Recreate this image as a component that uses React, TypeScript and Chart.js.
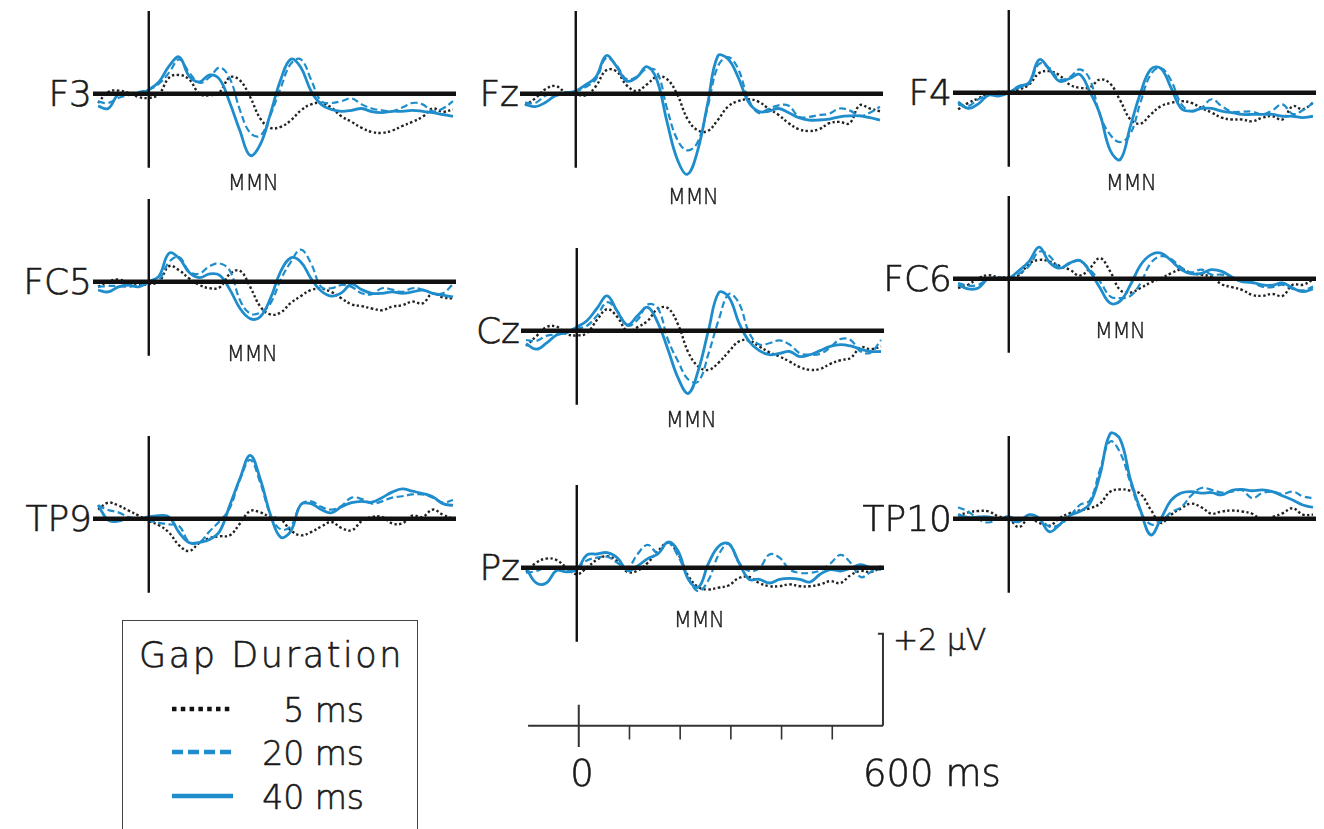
import React, { useEffect, useRef } from "react";
import { Chart, registerables } from "chart.js";

Chart.register(...registerables);

// Sample times (ms relative to gap onset)
const TIMES_MS = [
  -100, -80, -60, -40, -20, 0, 20, 40, 60, 80, 100, 120, 140, 160, 180, 200, 220, 240,
  260, 280, 300, 320, 340, 360, 380, 400, 420, 440, 460, 480, 500, 520, 540, 560, 580, 600,
];

// Grand-average ERPs in µV, one value per entry of TIMES_MS
const F3_GAP5 = [-0.20, 0.04, 0.07, 0.02, -0.07, -0.09, -0.01, 0.35, 0.41, 0.31, 0, -0.03, 0.04, 0.36, 0.29, -0.07, -0.54, -0.74, -0.72, -0.58, -0.36, -0.23, -0.20, -0.30, -0.49, -0.61, -0.74, -0.83, -0.85, -0.80, -0.70, -0.61, -0.50, -0.32, -0.39, -0.34];
const F3_GAP20 = [-0.17, -0.20, -0.09, -0.03, 0.04, 0.09, 0.22, 0.46, 0.75, 0.46, 0.24, 0.36, 0.57, 0.33, -0.36, -0.85, -0.91, -0.46, 0.12, 0.65, 0.75, 0.31, -0.16, -0.20, -0.16, -0.10, -0.23, -0.32, -0.36, -0.38, -0.30, -0.20, -0.23, -0.38, -0.32, -0.16];
const F3_GAP40 = [-0.27, -0.32, -0.01, 0, -0.01, 0.09, 0.26, 0.60, 0.80, 0.38, 0.26, 0.41, 0.31, -0.20, -0.81, -1.34, -1.10, -0.43, 0.30, 0.75, 0.57, 0.06, -0.23, -0.34, -0.38, -0.36, -0.32, -0.39, -0.41, -0.38, -0.38, -0.36, -0.38, -0.41, -0.45, -0.49];

const FZ_GAP5 = [-0.25, -0.10, 0.10, 0.17, 0.03, -0.01, -0.03, 0.17, 0.51, 0.49, 0.19, 0.06, 0.20, 0.37, 0.32, -0.01, -0.54, -0.79, -0.81, -0.57, -0.28, -0.16, -0.12, -0.17, -0.32, -0.46, -0.64, -0.77, -0.81, -0.77, -0.64, -0.61, -0.64, -0.25, -0.32, -0.38];
const FZ_GAP20 = [-0.19, -0.20, -0.04, 0.01, 0.03, 0.06, 0.15, 0.32, 0.78, 0.62, 0.32, 0.37, 0.54, 0.48, -0.32, -0.99, -1.23, -1.06, -0.30, 0.59, 0.80, 0.55, -0.10, -0.41, -0.33, -0.25, -0.26, -0.50, -0.50, -0.46, -0.43, -0.32, -0.36, -0.48, -0.41, -0.28];
const FZ_GAP40 = [-0.23, -0.28, -0.19, -0.04, 0.01, 0.06, 0.20, 0.37, 0.83, 0.60, 0.28, 0.35, 0.59, 0.30, -0.61, -1.42, -1.75, -1.25, -0.22, 0.82, 0.76, 0.37, -0.17, -0.38, -0.38, -0.32, -0.41, -0.52, -0.57, -0.57, -0.55, -0.50, -0.48, -0.48, -0.52, -0.57];

const F4_GAP5 = [-0.36, -0.22, -0.12, -0.02, 0.02, 0.02, 0.07, 0.18, 0.43, 0.47, 0.38, 0.18, 0.11, 0.12, 0.29, 0.20, -0.17, -0.58, -0.67, -0.47, -0.29, -0.22, -0.18, -0.22, -0.33, -0.43, -0.54, -0.58, -0.58, -0.62, -0.54, -0.51, -0.58, -0.29, -0.36, -0.22];
const F4_GAP20 = [-0.25, -0.29, -0.14, -0.05, -0.01, 0.02, 0.11, 0.20, 0.63, 0.54, 0.29, 0.34, 0.51, 0.29, -0.49, -0.91, -1.07, -0.89, -0.20, 0.40, 0.54, 0.27, -0.24, -0.40, -0.33, -0.14, -0.29, -0.41, -0.41, -0.41, -0.47, -0.38, -0.25, -0.46, -0.38, -0.22];
const F4_GAP40 = [-0.20, -0.34, -0.24, -0.05, -0.07, 0, 0.14, 0.22, 0.72, 0.51, 0.25, 0.31, 0.40, 0.02, -0.47, -1.25, -1.45, -0.72, 0.0, 0.51, 0.53, 0.11, -0.34, -0.40, -0.34, -0.34, -0.40, -0.43, -0.47, -0.47, -0.47, -0.47, -0.51, -0.51, -0.54, -0.51];

const FC5_GAP5 = [-0.11, 0, 0.05, -0.02, -0.07, -0.05, 0, 0.34, 0.25, 0.07, -0.07, -0.14, -0.12, 0.17, 0.24, -0.11, -0.54, -0.71, -0.67, -0.46, -0.31, -0.18, -0.15, -0.22, -0.36, -0.49, -0.53, -0.58, -0.62, -0.54, -0.51, -0.43, -0.47, -0.25, -0.34, -0.36];
const FC5_GAP20 = [-0.11, -0.09, -0.09, -0.11, -0.07, -0.04, 0.04, 0.43, 0.54, 0.22, 0.18, 0.34, 0.40, 0.24, -0.40, -0.69, -0.67, -0.47, 0.04, 0.43, 0.70, 0.40, -0.11, -0.14, -0.07, -0.11, -0.25, -0.27, -0.14, -0.17, -0.22, -0.14, -0.17, -0.25, -0.25, -0.05];
const FC5_GAP40 = [-0.18, -0.22, -0.11, -0.07, -0.11, 0, 0.12, 0.62, 0.51, 0.20, 0.09, 0.17, 0.14, -0.17, -0.58, -0.80, -0.76, -0.36, 0.22, 0.52, 0.43, 0.07, -0.20, -0.31, -0.24, -0.05, -0.17, -0.25, -0.25, -0.22, -0.25, -0.22, -0.18, -0.25, -0.29, -0.33];

const CZ_GAP5 = [-0.33, -0.12, 0.08, 0.09, -0.07, -0.10, -0.05, 0.24, 0.47, 0.30, -0.01, 0.08, 0.22, 0.48, 0.49, 0.13, -0.47, -0.78, -0.85, -0.69, -0.45, -0.23, -0.21, -0.34, -0.47, -0.56, -0.67, -0.79, -0.85, -0.83, -0.72, -0.64, -0.59, -0.36, -0.40, -0.34];
const CZ_GAP20 = [-0.20, -0.22, -0.11, -0.08, -0.04, 0.04, 0.11, 0.33, 0.62, 0.43, 0.11, 0.24, 0.57, 0.49, -0.20, -0.67, -1.06, -1.10, -0.49, 0.24, 0.80, 0.60, -0.04, -0.30, -0.27, -0.21, -0.30, -0.49, -0.52, -0.50, -0.36, -0.18, -0.20, -0.45, -0.47, -0.20];
const CZ_GAP40 = [-0.28, -0.40, -0.27, -0.09, -0.04, 0.08, 0.22, 0.49, 0.76, 0.42, 0.13, 0.33, 0.51, 0.17, -0.41, -1.03, -1.36, -0.85, 0.02, 0.83, 0.73, 0.17, -0.23, -0.43, -0.52, -0.49, -0.45, -0.56, -0.52, -0.43, -0.34, -0.30, -0.33, -0.40, -0.45, -0.45];

const FC6_GAP5 = [-0.20, -0.13, 0.01, 0.08, 0.03, 0.04, 0.08, 0.33, 0.41, 0.38, 0.28, 0.20, 0.07, 0.23, 0.45, 0.16, -0.25, -0.30, -0.20, -0.08, 0.01, 0.12, 0.20, 0.12, 0.09, 0.04, -0.12, -0.18, -0.24, -0.35, -0.37, -0.33, -0.37, -0.13, -0.13, -0.02];
const FC6_GAP20 = [-0.09, -0.15, -0.13, -0.01, 0.03, 0.01, 0.11, 0.28, 0.59, 0.50, 0.25, 0.33, 0.39, 0.20, -0.06, -0.38, -0.42, -0.37, -0.09, 0.34, 0.49, 0.43, 0.25, 0.14, 0.20, 0.09, 0.09, 0.01, -0.06, -0.09, -0.17, -0.18, -0.13, -0.22, -0.25, -0.17];
const FC6_GAP40 = [-0.13, -0.22, -0.20, 0.01, -0.01, 0.01, 0.18, 0.38, 0.69, 0.36, 0.23, 0.34, 0.40, 0.16, -0.20, -0.53, -0.48, -0.13, 0.30, 0.52, 0.56, 0.40, 0.20, 0.11, 0.12, 0.20, 0.16, 0.04, -0.06, -0.08, -0.13, -0.14, -0.09, -0.20, -0.28, -0.22];

const TP9_GAP5 = [0.20, 0.35, 0.29, 0.18, 0.07, -0.05, -0.14, -0.30, -0.58, -0.70, -0.52, -0.42, -0.38, -0.36, -0.10, 0.17, 0.14, 0.04, -0.01, -0.25, -0.36, -0.29, -0.17, -0.07, -0.20, -0.25, -0.05, 0.04, 0.04, -0.10, -0.10, 0.07, 0.04, 0.20, 0.09, 0];
const TP9_GAP20 = [0.29, 0.19, 0.14, 0.04, -0.01, -0.04, -0.09, -0.12, -0.16, -0.51, -0.51, -0.27, -0.05, 0.24, 0.86, 1.28, 0.78, 0.09, -0.23, -0.16, 0.31, 0.38, 0.26, 0.20, 0.28, 0.46, 0.43, 0.33, 0.38, 0.46, 0.49, 0.53, 0.53, 0.46, 0.35, 0.41];
const TP9_GAP40 = [0.30, -0.03, -0.05, 0.02, 0, 0.04, 0.07, 0.04, -0.30, -0.52, -0.51, -0.45, -0.27, 0.30, 0.88, 1.38, 0.86, 0.09, -0.40, -0.27, 0.31, 0.33, 0.20, 0.13, 0.26, 0.35, 0.38, 0.36, 0.46, 0.58, 0.65, 0.60, 0.55, 0.48, 0.33, 0.29];

const PZ_GAP5 = [-0.09, 0.11, 0.20, 0.17, 0, -0.14, 0, 0.18, 0.25, 0.14, -0.09, -0.06, 0.11, 0.36, 0.54, 0.30, -0.18, -0.42, -0.47, -0.43, -0.38, -0.22, -0.20, -0.33, -0.40, -0.40, -0.36, -0.40, -0.40, -0.36, -0.29, -0.33, -0.16, -0.07, -0.09, 0];
const PZ_GAP20 = [-0.11, -0.07, 0, -0.04, -0.07, 0, 0.16, 0.22, 0.24, 0.11, 0, 0.30, 0.50, 0.32, 0.55, 0.25, -0.22, -0.51, -0.26, 0.29, 0.52, 0.11, -0.07, -0.01, 0.29, 0.22, -0.04, -0.11, -0.11, -0.06, 0.09, 0.28, 0.11, -0.20, -0.09, 0.04];
const PZ_GAP40 = [0, -0.33, -0.33, -0.06, -0.09, -0.04, 0.28, 0.30, 0.33, 0.22, -0.06, 0.04, 0.20, 0.30, 0.56, 0.36, -0.25, -0.42, 0.10, 0.47, 0.52, 0.11, -0.25, -0.25, -0.33, -0.25, -0.23, -0.25, -0.31, -0.14, -0.04, -0.07, -0.01, 0.07, 0, -0.04];

const TP10_GAP5 = [0.07, 0.14, 0.17, 0.16, 0.05, 0, -0.18, 0.01, -0.09, -0.15, 0.01, 0.12, 0.18, 0.23, 0.33, 0.59, 0.64, 0.61, 0.54, 0.20, -0.09, 0.09, 0.23, 0.33, 0.25, 0.11, 0.16, 0.18, 0.16, 0.11, -0.02, 0.04, 0.12, 0.23, 0.09, 0.09];
const TP10_GAP20 = [0.25, 0.16, -0.01, -0.08, 0.01, 0.05, -0.02, -0.02, 0.01, -0.17, -0.13, 0.05, 0.30, 0.40, 1.07, 1.68, 1.43, 0.78, 0.16, -0.12, -0.06, 0.14, 0.25, 0.51, 0.67, 0.63, 0.57, 0.59, 0.62, 0.45, 0.56, 0.59, 0.54, 0.59, 0.49, 0.45];
const TP10_GAP40 = [0.09, 0.03, 0.04, 0.04, -0.01, -0.02, -0.06, 0.09, 0.01, -0.28, -0.13, 0.07, 0.16, 0.33, 0.96, 1.85, 1.72, 0.85, 0.18, -0.35, 0.0, 0.40, 0.56, 0.59, 0.56, 0.57, 0.52, 0.62, 0.64, 0.61, 0.63, 0.59, 0.50, 0.41, 0.30, 0.25];

// Scale-bar ticks (ms) and amplitude (µV)
const SCALE_TICKS_MS = [100, 200, 300, 400, 500];
const SCALE_AMPLITUDE_UV = 2;

const GAP_LABELS = ["5 ms", "20 ms", "40 ms"];

// Drawing constants
const BLUE = "#1f8dcb";
const INK = "#1a1a1a";
const FONT = "'DejaVu Sans', 'Open Sans', sans-serif";

const PX_PER_MS = 0.507;
const PX_PER_UV = 46;
const CANVAS_W = 363;
const CANVAS_H = 200;
const X_MIN = -110;
const X_MAX = X_MIN + CANVAS_W / PX_PER_MS;
const Y_MAX = 2.3;
const Y_MIN = Y_MAX - CANVAS_H / PX_PER_UV;

type Panel = {
  name: string;
  x0: number;
  y0: number;
  gap5: number[];
  gap20: number[];
  gap40: number[];
  mmn: [number, number] | null;
};

const PANELS: Panel[] = [
  { name: "F3", x0: 149, y0: 94, gap5: F3_GAP5, gap20: F3_GAP20, gap40: F3_GAP40, mmn: [253, 183] },
  { name: "Fz", x0: 576, y0: 94, gap5: FZ_GAP5, gap20: FZ_GAP20, gap40: FZ_GAP40, mmn: [693, 197] },
  { name: "F4", x0: 1009, y0: 93, gap5: F4_GAP5, gap20: F4_GAP20, gap40: F4_GAP40, mmn: [1131, 183] },
  { name: "FC5", x0: 149, y0: 282, gap5: FC5_GAP5, gap20: FC5_GAP20, gap40: FC5_GAP40, mmn: [252, 354] },
  { name: "Cz", x0: 577, y0: 331, gap5: CZ_GAP5, gap20: CZ_GAP20, gap40: CZ_GAP40, mmn: [691, 420] },
  { name: "FC6", x0: 1009, y0: 279, gap5: FC6_GAP5, gap20: FC6_GAP20, gap40: FC6_GAP40, mmn: [1120, 331] },
  { name: "TP9", x0: 149, y0: 519, gap5: TP9_GAP5, gap20: TP9_GAP20, gap40: TP9_GAP40, mmn: null },
  { name: "Pz", x0: 577, y0: 568, gap5: PZ_GAP5, gap20: PZ_GAP20, gap40: PZ_GAP40, mmn: [699, 620] },
  { name: "TP10", x0: 1009, y0: 519, gap5: TP10_GAP5, gap20: TP10_GAP20, gap40: TP10_GAP40, mmn: null },
];

const toPoints = (values: number[]) => TIMES_MS.map((t, i) => ({ x: t, y: values[i] }));

const lineStyle = (color: string, width: number, dash: number[] = []) => ({
  borderColor: color,
  borderWidth: width,
  borderDash: dash,
  pointRadius: 0,
  fill: false,
  clip: false as const,
});

function baseOptions() {
  return {
    animation: false as const,
    responsive: false,
    maintainAspectRatio: false,
    events: [] as any[],
    layout: { padding: 0 },
    plugins: { legend: { display: false }, tooltip: { enabled: false } },
    scales: {
      x: { type: "linear" as const, min: X_MIN, max: X_MAX, display: false },
      y: { type: "linear" as const, min: Y_MIN, max: Y_MAX, display: false },
    },
  };
}

function ChartCanvas({ x0, y0, makeDatasets }: { x0: number; y0: number; makeDatasets: () => any[] }) {
  const ref = useRef<HTMLCanvasElement>(null);
  useEffect(() => {
    if (!ref.current) return;
    const chart = new Chart(ref.current, {
      type: "line",
      data: { datasets: makeDatasets() },
      options: baseOptions() as any,
    });
    return () => chart.destroy();
  }, []);
  const left = Math.round(x0 + X_MIN * PX_PER_MS);
  const top = Math.round(y0 - Y_MAX * PX_PER_UV);
  return (
    <canvas
      ref={ref}
      width={CANVAS_W}
      height={CANVAS_H}
      style={{ position: "absolute", left, top, width: CANVAS_W, height: CANVAS_H }}
    />
  );
}

function Text({
  x,
  y,
  size,
  anchor = "left",
  spacing = 0,
  children,
}: {
  x: number;
  y: number;
  size: number;
  anchor?: "left" | "right" | "center";
  spacing?: number;
  children: React.ReactNode;
}) {
  const tx = anchor === "left" ? "0" : anchor === "right" ? "-100%" : "-50%";
  return (
    <div
      style={{
        position: "absolute",
        left: x,
        top: y,
        transform: `translate(${tx}, -50%)`,
        fontSize: size,
        fontWeight: 200,
        letterSpacing: spacing,
        lineHeight: 1,
        whiteSpace: "nowrap",
        color: INK,
        WebkitTextStroke: `${size > 24 ? 0.6 : 0.4}px ${INK}`,
      }}
    >
      {children}
    </div>
  );
}

function ErpPanel({ panel }: { panel: Panel }) {
  const makeDatasets = () => [
    { data: [{ x: -110, y: 0 }, { x: 606, y: 0 }], ...lineStyle("#111", 4.5), tension: 0 },
    { data: [{ x: 0, y: 1.8 }, { x: 0, y: -1.61 }], ...lineStyle("#111", 2.4), tension: 0 },
    { label: GAP_LABELS[2], data: toPoints(panel.gap40), ...lineStyle(BLUE, 2.8), tension: 0.4 },
    { label: GAP_LABELS[1], data: toPoints(panel.gap20), ...lineStyle(BLUE, 2.2, [7, 3.5]), tension: 0.4 },
    { label: GAP_LABELS[0], data: toPoints(panel.gap5), ...lineStyle("#222", 2.4, [2.4, 2.4]), tension: 0.4 },
  ];
  return (
    <>
      <ChartCanvas x0={panel.x0} y0={panel.y0} makeDatasets={makeDatasets} />
      <Text x={panel.x0 - 57} y={panel.y0} size={36} anchor="right">
        {panel.name}
      </Text>
      {panel.mmn && (
        <Text x={panel.mmn[0]} y={panel.mmn[1]} size={21} anchor="center" spacing={-0.5}>
          MMN
        </Text>
      )}
    </>
  );
}

function ScaleBar({ x0, y0 }: { x0: number; y0: number }) {
  const makeDatasets = () => {
    const minor: { x: number; y: number | null }[] = [];
    SCALE_TICKS_MS.forEach((t) => {
      minor.push({ x: t, y: 0 }, { x: t, y: -0.3 }, { x: t, y: null });
    });
    return [
      { data: [{ x: -100, y: 0 }, { x: 600, y: 0 }], ...lineStyle("#333", 2), tension: 0 },
      { data: [{ x: 0, y: 0.46 }, { x: 0, y: -0.46 }], ...lineStyle("#333", 2), tension: 0 },
      { data: minor, ...lineStyle("#333", 1.6), tension: 0, spanGaps: false },
      {
        data: [
          { x: 590, y: SCALE_AMPLITUDE_UV },
          { x: 600, y: SCALE_AMPLITUDE_UV },
          { x: 600, y: 0 },
        ],
        ...lineStyle("#333", 2),
        tension: 0,
      },
    ];
  };
  return (
    <>
      <ChartCanvas x0={x0} y0={y0} makeDatasets={makeDatasets} />
      <Text x={x0 + 3} y={773} size={37} anchor="center">
        0
      </Text>
      <Text x={863} y={773} size={37}>
        600 ms
      </Text>
      <Text x={893} y={640} size={30}>
        +{SCALE_AMPLITUDE_UV} µV
      </Text>
    </>
  );
}

function Legend() {
  const rows = [
    { label: GAP_LABELS[0], color: "#111", dash: "4.5 4.3", y: 709 },
    { label: GAP_LABELS[1], color: BLUE, dash: "11 5", y: 752 },
    { label: GAP_LABELS[2], color: BLUE, dash: "", y: 796 },
  ];
  return (
    <>
      <div
        style={{
          position: "absolute",
          left: 122,
          top: 620,
          width: 296,
          height: 240,
          border: "1.5px solid #444",
          boxSizing: "border-box",
        }}
      />
      <Text x={139} y={655} size={35} spacing={2.6}>
        Gap Duration
      </Text>
      <svg
        width={80}
        height={120}
        style={{ position: "absolute", left: 165, top: 690 }}
      >
        {rows.map((r) => (
          <line
            key={r.label}
            x1={7}
            x2={68}
            y1={r.y - 690}
            y2={r.y - 690}
            stroke={r.color}
            strokeWidth={4.3}
            strokeDasharray={r.dash || undefined}
          />
        ))}
      </svg>
      {rows.map((r) => (
        <Text key={r.label} x={364} y={r.y + 1} size={33} anchor="right">
          {r.label}
        </Text>
      ))}
    </>
  );
}

export default function App() {
  return (
    <div
      style={{
        position: "fixed",
        inset: 0,
        overflow: "hidden",
        background: "#fff",
        fontFamily: FONT,
      }}
    >
      {PANELS.map((p) => (
        <ErpPanel key={p.name} panel={p} />
      ))}
      <ScaleBar x0={579} y0={726} />
      <Legend />
    </div>
  );
}
